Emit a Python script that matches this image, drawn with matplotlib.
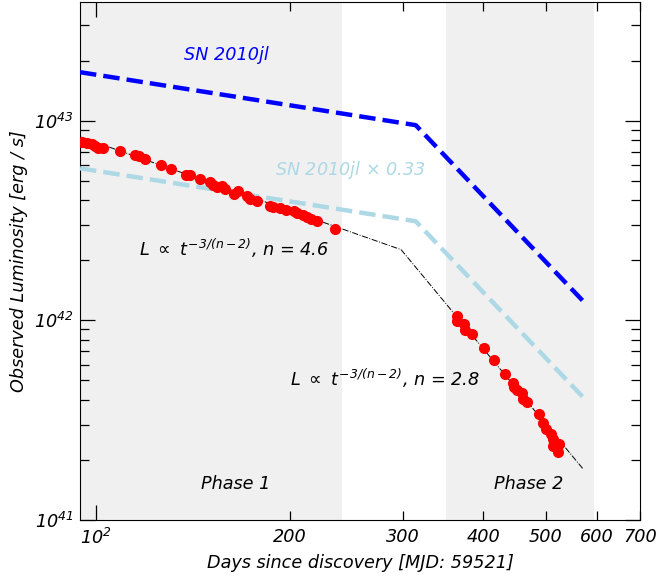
import matplotlib
matplotlib.use("Agg")
import matplotlib.pyplot as plt
from matplotlib.ticker import NullFormatter

plt.rcParams['font.family'] = 'DejaVu Sans'
plt.rcParams['font.style'] = 'italic'
plt.rcParams['mathtext.fontset'] = 'custom'
plt.rcParams['mathtext.rm'] = 'DejaVu Sans:italic'
plt.rcParams['mathtext.it'] = 'DejaVu Sans:italic'
plt.rcParams['mathtext.sf'] = 'DejaVu Sans:italic'
plt.rcParams['mathtext.bf'] = 'DejaVu Sans:italic:bold'

# observed light curve (days since discovery, erg/s)
obs_days = [95.2, 96.9, 98.6, 99.8, 101.0, 102.8, 109.2, 115.2, 116.6, 119.4,
            126.3, 130.9, 138.3, 140.0, 145.0, 150.3, 152.4, 154.3, 157.1, 159.0,
            163.8, 166.2, 171.9, 173.9, 178.1, 186.3, 188.6, 193.1, 197.8, 203.0,
            205.5, 210.0, 213.0, 215.6, 220.8, 234.9,
            363.9, 363.4, 373.3, 374.2, 384.6, 401.0, 415.6, 432.5, 443.8, 446.4,
            450.8, 458.4, 460.0, 467.2, 487.2, 494.2, 500.1, 509.1, 512.2, 513.3,
            524.5, 521.5]
obs_lum = [7.83e42, 7.74e42, 7.62e42, 7.45e42, 7.34e42, 7.26e42, 7.06e42, 6.72e42, 6.64e42, 6.46e42,
           6.03e42, 5.76e42, 5.37e42, 5.33e42, 5.11e42, 4.92e42, 4.75e42, 4.66e42, 4.71e42, 4.57e42,
           4.28e42, 4.45e42, 4.18e42, 4.07e42, 3.96e42, 3.73e42, 3.70e42, 3.66e42, 3.59e42, 3.53e42,
           3.45e42, 3.36e42, 3.29e42, 3.20e42, 3.15e42, 2.86e42,
           1.047e42, 9.89e41, 9.55e41, 8.98e41, 8.58e41, 7.24e41, 6.34e41, 5.36e41, 4.85e41, 4.63e41,
           4.46e41, 4.32e41, 4.05e41, 3.90e41, 3.41e41, 3.06e41, 2.84e41, 2.71e41, 2.55e41, 2.36e41,
           2.41e41, 2.18e41]

# SN 2010jl template (broken power law vertices)
sn_days = [94.6, 314, 575]
sn_lum = [1.75e43, 9.5e42, 1.22e42]
sn_scale = 0.33

# broken power-law fit (n = 4.6, then n = 2.8)
fit_days = [94.6, 298, 572]
fit_lum = [8.3e42, 2.26e42, 1.79e41]

phase1 = (90, 241)
phase2 = (350, 594)

x_minor_ticks = [200, 300, 400, 500, 600, 700]
x_minor_labels = ['200', '300', '400', '500', '600', '700']

fs = 12.7

fig = plt.figure(figsize=(6.57, 5.79), dpi=100)
ax = fig.add_axes([0.1218, 0.1019, 0.8524, 0.8946])

ax.axvspan(*phase1, color='#f0f0f0', lw=0, zorder=0)
ax.axvspan(*phase2, color='#f0f0f0', lw=0, zorder=0)

ax.plot(sn_days, sn_lum, '--', color='blue', lw=3.2, zorder=3)
ax.plot(sn_days, [v * sn_scale for v in sn_lum], '--', color='lightblue', lw=3.2, zorder=3)
ax.plot(fit_days, fit_lum, '-.', color='black', lw=0.7, zorder=2)
ax.plot(obs_days, obs_lum, 'o', color='red', ms=7, zorder=4)

ax.set_xscale('log')
ax.set_yscale('log')
ax.set_xlim(94.6, 700)
ax.set_ylim(1e41, 3.93e43)

ax.set_xticks([100])
ax.set_xticklabels(['$10^2$'])
ax.set_xticks(x_minor_ticks, minor=True)
ax.set_xticklabels(x_minor_labels, minor=True)
ax.set_yticks([1e41, 1e42, 1e43])
ax.set_yticklabels(['$10^{41}$', '$10^{42}$', '$10^{43}$'])
ax.yaxis.set_minor_formatter(NullFormatter())

ax.tick_params(which='both', direction='in', top=True, right=True, labelsize=fs)
ax.tick_params(which='major', length=11, width=0.9)
ax.tick_params(which='minor', length=6.5, width=0.9)
ax.tick_params(axis='x', which='both', pad=6)
ax.tick_params(axis='y', which='both', pad=5)

ax.text(137, 2.13e43, 'SN 2010jl', color='blue', fontsize=fs, va='center')
ax.text(190, 5.65e42, r'SN 2010jl $\times$ 0.33', color='lightblue', fontsize=fs, va='center')
ax.text(117, 2.3e42, r'$L\ \propto\ t^{-3/(n-2)}$, n = 4.6', fontsize=fs, va='center')
ax.text(200, 5.12e41, r'$L\ \propto\ t^{-3/(n-2)}$, n = 2.8', fontsize=fs, va='center')
ax.text(165, 1.52e41, 'Phase 1', fontsize=fs, ha='center', va='center')
ax.text(470, 1.52e41, 'Phase 2', fontsize=fs, ha='center', va='center')

ax.set_xlabel('Days since discovery [MJD: 59521]', fontsize=fs)
ax.set_ylabel('Observed Luminosity [erg / s]', fontsize=fs)

plt.savefig('out.png', dpi=100)
